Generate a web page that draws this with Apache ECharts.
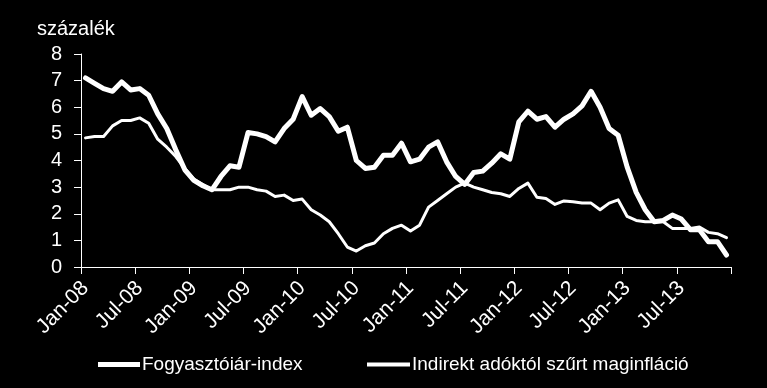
<!DOCTYPE html>
<html><head><meta charset="utf-8">
<script src="https://cdn.jsdelivr.net/npm/echarts@6/dist/echarts.min.js"></script>
<style>html,body{margin:0;padding:0;background:#000;}#c{width:767px;height:388px;}</style>
</head><body><div id="c"></div>
<script>
var categories = [
'Jan-08','Feb-08','Mar-08','Apr-08','May-08','Jun-08','Jul-08','Aug-08','Sep-08','Oct-08','Nov-08','Dec-08',
'Jan-09','Feb-09','Mar-09','Apr-09','May-09','Jun-09','Jul-09','Aug-09','Sep-09','Oct-09','Nov-09','Dec-09',
'Jan-10','Feb-10','Mar-10','Apr-10','May-10','Jun-10','Jul-10','Aug-10','Sep-10','Oct-10','Nov-10','Dec-10',
'Jan-11','Feb-11','Mar-11','Apr-11','May-11','Jun-11','Jul-11','Aug-11','Sep-11','Oct-11','Nov-11','Dec-11',
'Jan-12','Feb-12','Mar-12','Apr-12','May-12','Jun-12','Jul-12','Aug-12','Sep-12','Oct-12','Nov-12','Dec-12',
'Jan-13','Feb-13','Mar-13','Apr-13','May-13','Jun-13','Jul-13','Aug-13','Sep-13','Oct-13','Nov-13','Dec-13'
];
var cpiName = 'Fogyasztóiár-index';
var coreName = 'Indirekt adóktól szűrt maginfláció';
var cpi = [
7.1,6.9,6.7,6.6,6.95,6.65,6.7,6.45,5.75,5.2,4.4,3.65,
3.25,3.05,2.9,3.4,3.8,3.75,5.05,5.0,4.9,4.7,5.2,5.55,
6.4,5.7,5.95,5.65,5.1,5.25,4.0,3.7,3.75,4.2,4.2,4.65,
3.95,4.05,4.5,4.7,3.95,3.4,3.1,3.55,3.6,3.9,4.25,4.05,
5.45,5.85,5.55,5.65,5.25,5.55,5.75,6.05,6.6,6.0,5.2,4.95,
3.75,2.8,2.15,1.7,1.75,1.95,1.8,1.4,1.4,0.95,0.95,0.45
];
var core = [
4.85,4.9,4.9,5.3,5.5,5.5,5.6,5.4,4.8,4.5,4.15,3.7,
3.3,3.1,2.9,2.9,2.9,3.0,3.0,2.9,2.85,2.65,2.7,2.5,
2.55,2.15,1.95,1.7,1.25,0.75,0.6,0.8,0.9,1.25,1.45,1.57,
1.35,1.57,2.25,2.5,2.75,3.0,3.15,3.0,2.9,2.8,2.75,2.65,
2.95,3.15,2.62,2.57,2.35,2.48,2.45,2.4,2.4,2.15,2.4,2.52,
1.9,1.75,1.7,1.7,1.7,1.45,1.45,1.45,1.5,1.3,1.25,1.1
];
var yTicks = {min: 0, max: 8, interval: 1};
var unitLabel = 'százalék';

var FONT = '"Liberation Sans", Arial, sans-serif';
var chart = echarts.init(document.getElementById('c'), null, {renderer: 'canvas'});
chart.setOption({
  backgroundColor: '#000',
  animation: false,
  title: {
    text: unitLabel, left: 37, top: 19, padding: 0,
    textStyle: {color: '#fff', fontSize: 20, fontWeight: 'normal', fontFamily: FONT}
  },
  grid: {left: 81, right: 36, top: 54, bottom: 121, containLabel: false},
  legend: [
    {data: [{name: cpiName, icon: 'rect'}], left: 93, top: 350, itemWidth: 42, itemHeight: 5, itemGap: 0,
     textStyle: {color: '#fff', fontSize: 19, fontFamily: FONT, padding: [0,0,0,-3]}},
    {data: [{name: coreName, icon: 'rect'}], left: 362, top: 350, itemWidth: 43, itemHeight: 4, itemGap: 0,
     textStyle: {color: '#fff', fontSize: 19, fontFamily: FONT, padding: [0,0,0,-3]}}
  ],
  xAxis: {
    type: 'category', data: categories, boundaryGap: true,
    axisLine: {lineStyle: {color: '#fff', width: 1}},
    axisTick: {show: true, interval: 5, length: 7, lineStyle: {color: '#fff'}},
    axisLabel: {interval: 5, rotate: 45, color: '#fff', fontSize: 21, fontFamily: FONT, margin: 18}
  },
  yAxis: {
    type: 'value', min: yTicks.min, max: yTicks.max, interval: yTicks.interval,
    splitLine: {show: false},
    axisLine: {show: true, lineStyle: {color: '#fff', width: 1}},
    axisTick: {show: true, length: 7, lineStyle: {color: '#fff'}},
    axisLabel: {color: '#fff', fontSize: 20, fontFamily: FONT, margin: 19}
  },
  series: [
    {name: cpiName, type: 'line', data: cpi, symbol: 'none', smooth: false,
     itemStyle: {color: '#fff'},
     lineStyle: {color: '#fff', width: 5, cap: 'round', join: 'round'}},
    {name: coreName, type: 'line', data: core, symbol: 'none', smooth: false,
     itemStyle: {color: '#fff'},
     lineStyle: {color: '#fff', width: 3, cap: 'round', join: 'round'}}
  ]
});
</script></body></html>
